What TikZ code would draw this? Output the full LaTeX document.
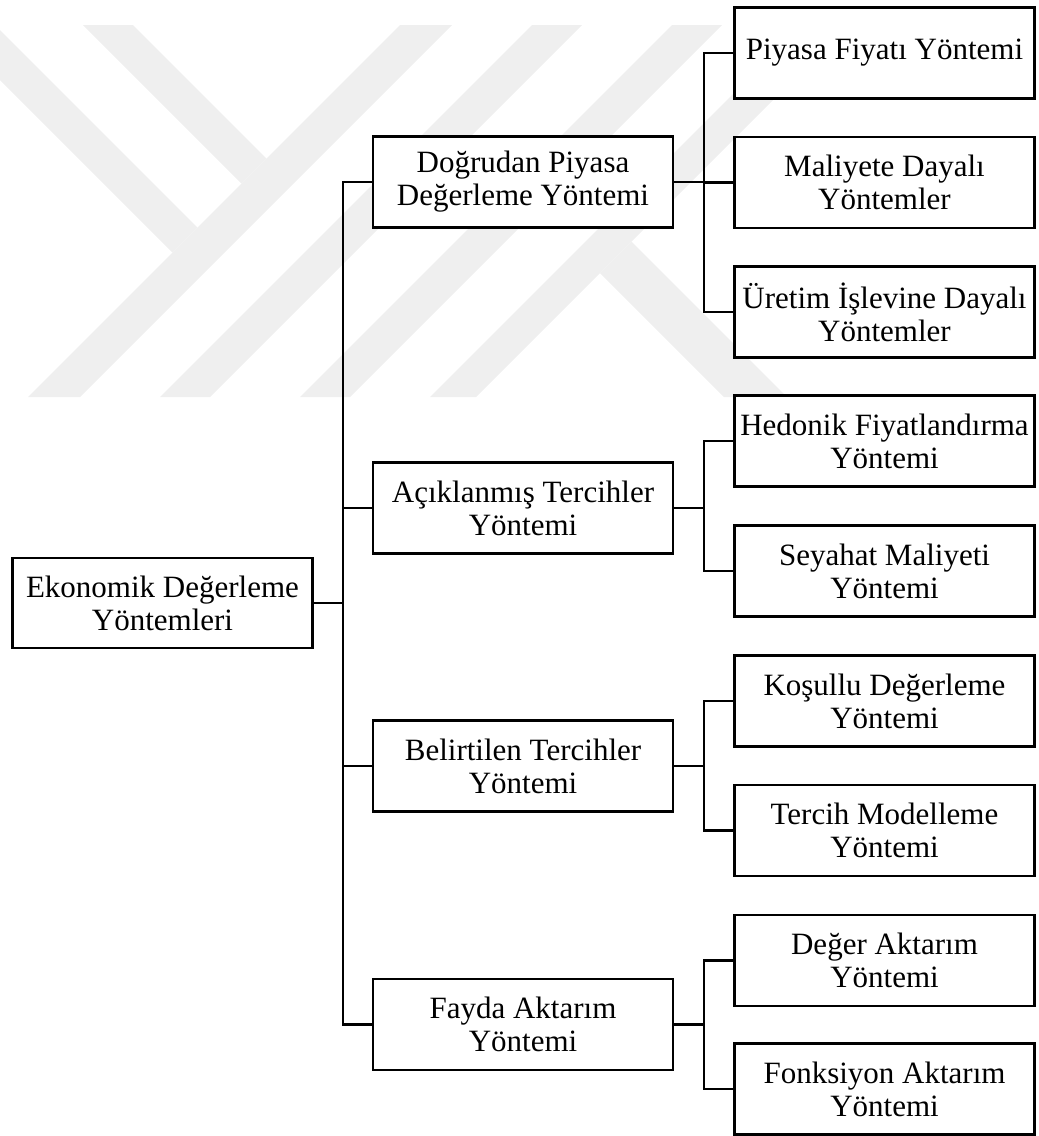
\documentclass[tikz,border=0pt]{standalone}
\usepackage{fontspec}
\setmainfont{Liberation Serif}
\definecolor{wmgray}{RGB}{239,239,239}
\begin{document}
\begin{tikzpicture}[x=1pt,y=-1pt,
  box/.style={draw,line width=2.9pt,fill=white,minimum width=300pt,minimum height=91pt,
    inner sep=0pt,align=center,font=\fontsize{31}{33}\selectfont},
  conn/.style={line width=2.9pt},
  wm/.style={fill=wmgray,draw=none}]
\useasboundingbox (0,0) rectangle (1039,1136);
% watermark
\fill[wm] (400,25) -- (452,25) -- (80,397) -- (28,397) -- cycle;
\fill[wm] (0,30) -- (197.5,227.5) -- (172.5,252.5) -- (0,80) -- cycle;
\fill[wm] (83,25) -- (133,25) -- (266.5,158.5) -- (241.5,183.5) -- cycle;
\fill[wm] (532,25) -- (582,25) -- (210,397) -- (160,397) -- cycle;
\fill[wm] (672,25) -- (722,25) -- (350,397) -- (300,397) -- cycle;
\fill[wm] (802,25) -- (848,25) -- (476,397) -- (430,397) -- cycle;
\fill[wm] (631.5,241.5) -- (787,397) -- (724,397) -- (600,273) -- cycle;
% nodes
\node[box,minimum height=90pt] (root) at (162.5,603) {Ekonomik Değerleme\\Yöntemleri};
\node[box] (m1) at (523,182) {Doğrudan Piyasa\\Değerleme Yöntemi};
\node[box] (m2) at (523,508) {Açıklanmış Tercihler\\Yöntemi};
\node[box] (m3) at (523,766) {Belirtilen Tercihler\\Yöntemi};
\node[box] (m4) at (523,1024.5) {Fayda Aktarım\\Yöntemi};
\node[box] (l1) at (884.5,53) {Piyasa Fiyatı Yöntemi};
\node[box] (l2) at (884.5,182.5) {Maliyete Dayalı\\Yöntemler};
\node[box] (l3) at (884.5,312) {Üretim İşlevine Dayalı\\Yöntemler};
\node[box] (l4) at (884.5,441) {Hedonik Fiyatlandırma\\Yöntemi};
\node[box] (l5) at (884.5,571) {Seyahat Maliyeti\\Yöntemi};
\node[box] (l6) at (884.5,701) {Koşullu Değerleme\\Yöntemi};
\node[box] (l7) at (884.5,830.5) {Tercih Modelleme\\Yöntemi};
\node[box] (l8) at (884.5,960.5) {Değer Aktarım\\Yöntemi};
\node[box] (l9) at (884.5,1089) {Fonksiyon Aktarım\\Yöntemi};
% connectors
\coordinate (tk) at (343,0);
\coordinate (sb) at (704,0);
\draw[conn] (root.east) -- (root.east -| tk);
\draw[conn] (m1.west) -- (m1.west -| tk) -- (m4.west -| tk) -- (m4.west);
\draw[conn] (m2.west) -- (m2.west -| tk);
\draw[conn] (m3.west) -- (m3.west -| tk);
% group 1
\draw[conn] (m1.east) -- (m1.east -| sb);
\draw[conn] (l1.west) -- (l1.west -| sb) -- (l3.west -| sb) -- (l3.west);
\draw[conn] (l2.west) -- (l2.west -| sb);
% group 2
\draw[conn] (m2.east) -- (m2.east -| sb);
\draw[conn] (l4.west) -- (l4.west -| sb) -- (l5.west -| sb) -- (l5.west);
% group 3
\draw[conn] (m3.east) -- (m3.east -| sb);
\draw[conn] (l6.west) -- (l6.west -| sb) -- (l7.west -| sb) -- (l7.west);
% group 4
\draw[conn] (m4.east) -- (m4.east -| sb);
\draw[conn] (l8.west) -- (l8.west -| sb) -- (l9.west -| sb) -- (l9.west);
\end{tikzpicture}
\end{document}
